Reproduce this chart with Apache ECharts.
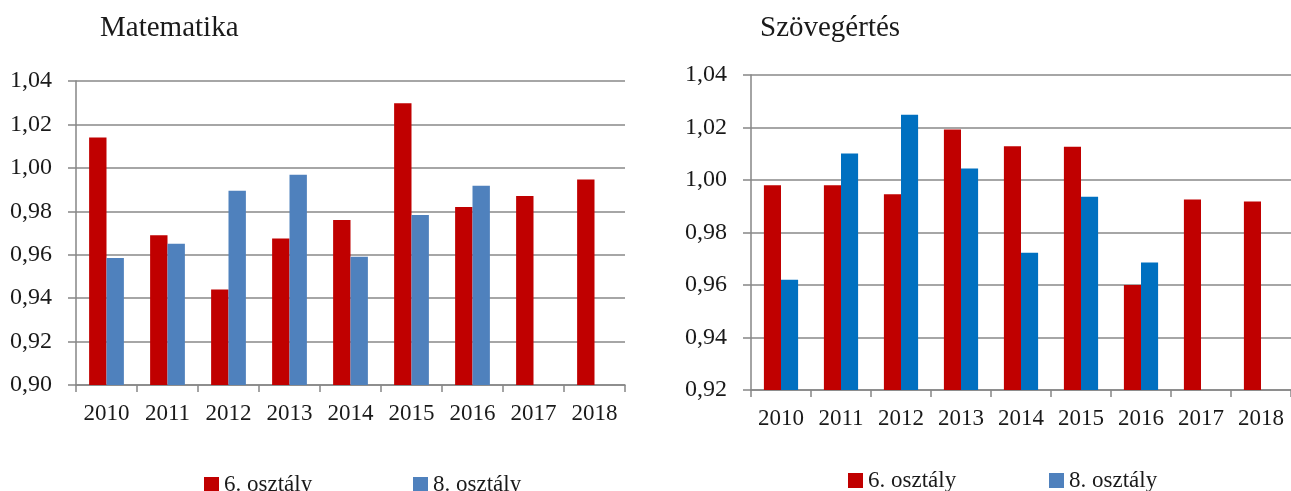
<!DOCTYPE html>
<html>
<head>
<meta charset="utf-8">
<script src="https://cdn.jsdelivr.net/npm/echarts@6/dist/echarts.min.js"></script>
<style>
html, body { margin: 0; padding: 0; background: #fff; }
#chart { width: 1291px; height: 491px; }
</style>
</head>
<body>
<div id="chart"></div>
<script>
var years = ['2010', '2011', '2012', '2013', '2014', '2015', '2016', '2017', '2018'];
var matek6 = [1.014, 0.969, 0.944, 0.9675, 0.976, 1.0297, 0.982, 0.987, 0.9946];
var matek8 = [0.9585, 0.965, 0.9894, 0.9968, 0.9591, 0.9783, 0.9918, null, null];
var szov6 = [0.998, 0.998, 0.9946, 1.0192, 1.0129, 1.0127, 0.960, 0.9926, 0.9918];
var szov8 = [0.962, 1.0101, 1.0249, 1.0044, 0.9723, 0.9936, 0.9686, null, null];
var seriesNames = ['6. osztály', '8. osztály'];

var font = '"Liberation Serif", "DejaVu Serif", serif';
var axisGray = '#868686';
var red = '#c00000';

function yAxisFor(gridIndex, min) {
    return {
        gridIndex : gridIndex,
        type : 'value',
        min : min,
        max : 1.04,
        interval : 0.02,
        axisLine : { show : true, lineStyle : { color : axisGray, width : 1.5 } },
        axisTick : { show : true, inside : false, length : 8, lineStyle : { color : axisGray, width : 1.5 } },
        splitLine : { show : true, lineStyle : { color : '#888888', width : 1.6 } },
        axisLabel : {
            margin : 24,
            color : '#1a1a1a',
            fontFamily : font,
            fontSize : 24,
            formatter : function(v) { return v.toFixed(2).replace('.', ','); }
        }
    };
}

function xAxisFor(gridIndex) {
    return {
        gridIndex : gridIndex,
        type : 'category',
        data : years,
        axisLine : { show : true, lineStyle : { color : axisGray, width : 1.5 } },
        axisTick : { show : true, length : 7, lineStyle : { color : axisGray, width : 1.5 } },
        axisLabel : { margin : 17, color : '#1a1a1a', fontFamily : font, fontSize : 23, interval : 0 }
    };
}

function barSeries(name, idx, data, color) {
    return {
        name : name,
        type : 'bar',
        xAxisIndex : idx,
        yAxisIndex : idx,
        data : data,
        barGap : '0%',
        barCategoryGap : '43%',
        itemStyle : { color : color },
        animation : false
    };
}

var legendText = { color : '#1a1a1a', fontFamily : font, fontSize : 23 };

var option = {
    backgroundColor : '#fff',
    animation : false,
    title : [{
        text : 'Matematika',
        left : 95,
        top : 9,
        textStyle : { color : '#1a1a1a', fontFamily : font, fontSize : 29, fontWeight : 'normal' }
    }, {
        text : 'Szövegértés',
        left : 755,
        top : 9,
        textStyle : { color : '#1a1a1a', fontFamily : font, fontSize : 29, fontWeight : 'normal' }
    }],
    legend : [{
        data : [seriesNames[0]], left : 199, top : 468, itemWidth : 15, itemHeight : 15,
        icon : 'rect', itemGap : 0, textStyle : legendText, selectedMode : false
    }, {
        data : [seriesNames[1]], left : 408, top : 468, itemWidth : 15, itemHeight : 15,
        icon : 'rect', itemGap : 0, textStyle : legendText, selectedMode : false
    }, {
        data : [seriesNames[0]], left : 843, top : 464, itemWidth : 15, itemHeight : 15,
        icon : 'rect', itemGap : 0, textStyle : legendText, selectedMode : false
    }, {
        data : [seriesNames[1]], left : 1044, top : 464, itemWidth : 15, itemHeight : 15,
        icon : 'rect', itemGap : 0, textStyle : legendText, selectedMode : false
    }],
    grid : [
        { left : 76, top : 81, width : 549, height : 304 },
        { left : 751, top : 75, width : 542, height : 315 }
    ],
    xAxis : [xAxisFor(0), xAxisFor(1)],
    yAxis : [yAxisFor(0, 0.90), yAxisFor(1, 0.92)],
    series : [
        barSeries(seriesNames[0], 0, matek6, red),
        barSeries(seriesNames[1], 0, matek8, '#4f81bd'),
        barSeries(seriesNames[0], 1, szov6, red),
        barSeries(seriesNames[1], 1, szov8, '#0070c0')
    ]
};

var chart = echarts.init(document.getElementById('chart'), null, { renderer : 'canvas' });
chart.setOption(option);
</script>
</body>
</html>
